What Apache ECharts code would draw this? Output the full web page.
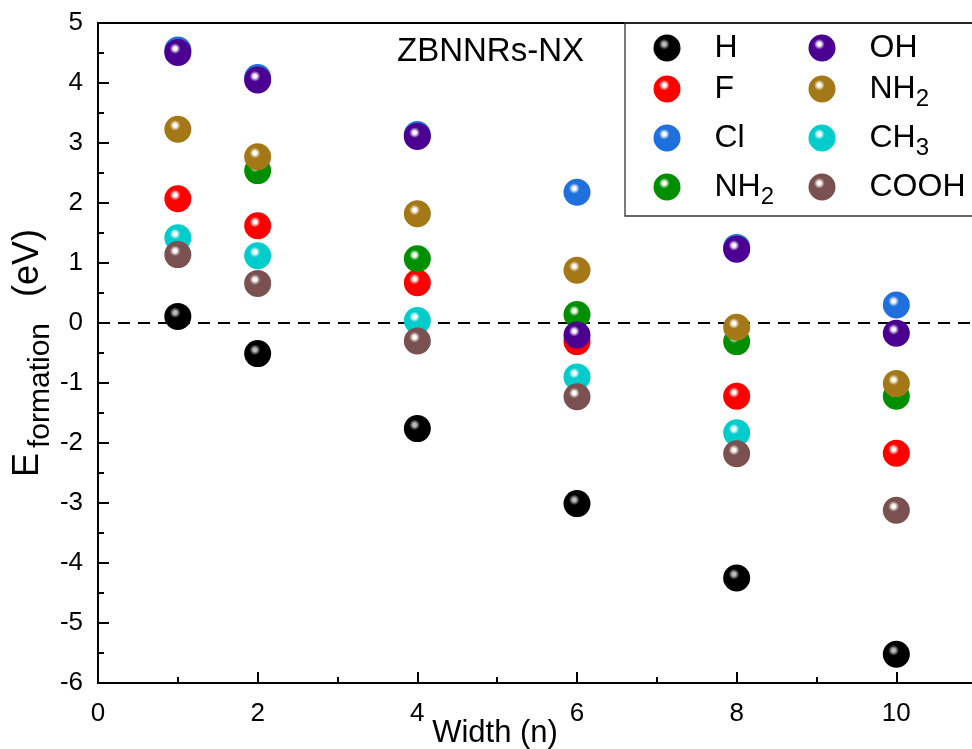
<!DOCTYPE html>
<html>
<head>
<meta charset="utf-8">
<script src="https://cdn.jsdelivr.net/npm/echarts@6/dist/echarts.min.js"></script>
<style>html,body{margin:0;padding:0;background:#fff}#c{width:972px;height:749px}</style>
</head>
<body>
<div id="c"></div>
<script>
// ---- data ----
const widths = [1, 2, 4, 6, 8, 10];
const seriesKeys = ['H', 'F', 'Cl', 'NH2a', 'OH', 'NH2b', 'CH3', 'COOH'];
const valH    = [0.11, -0.51, -1.76, -3.01, -4.25, -5.52];
const valF    = [2.07, 1.62, 0.67, -0.31, -1.22, -2.17];
const valCl   = [4.55, 4.09, 3.14, 2.18, 1.26, 0.30];
const valNH2a = [null, 2.54, 1.07, 0.14, -0.31, -1.22];
const valOH   = [4.51, 4.05, 3.11, -0.20, 1.23, -0.17];
const valNH2b = [3.23, 2.77, 1.82, 0.88, -0.07, -1.01];
const valCH3  = [1.42, 1.12, 0.04, -0.90, -1.83, null];
const valCOOH = [1.14, 0.66, -0.30, -1.23, -2.18, -3.12];
const zeroLine = [[0, 0], [12, 0]];
const xTicks = [0, 2, 4, 6, 8, 10];
const yTicks = [-6, -5, -4, -3, -2, -1, 0, 1, 2, 3, 4, 5];

const values = [valH, valF, valCl, valNH2a, valOH, valNH2b, valCH3, valCOOH];
const colors = ['#000000', '#ff0000', '#1f6fdc', '#008f00', '#4b0092', '#a47816', '#00cccc', '#7a5050'];
// legend label text (main, subscript)
const labelMain = ['H', 'F', 'Cl', 'NH', 'OH', 'NH', 'CH', 'COOH'];
const labelSub  = ['', '', '', '2', '', '2', '3', ''];
// legend placement (marker centres)
const legCol = [667, 667, 667, 667, 822, 822, 822, 822];
const legRow = [47, 88, 137, 186, 47, 88, 137, 186];

function ball(c) {
  const hl = c === '#000000' ? '#bbbbbb' : '#ffffff';
  return new echarts.graphic.RadialGradient(0.4, 0.36, 0.62, [
    { offset: 0, color: hl },
    { offset: 0.1, color: hl },
    { offset: 0.32, color: c },
    { offset: 1, color: c }
  ]);
}

const chart = echarts.init(document.getElementById('c'), null, { renderer: 'canvas' });

const series = [{
  type: 'line', data: zeroLine, z: 1, silent: true, showSymbol: false, symbol: 'none',
  lineStyle: { type: [12, 8], width: 2, color: '#000' }
}];
seriesKeys.forEach((k, i) => {
  series.push({
    name: k, type: 'scatter', z: 2 + i,
    symbol: 'circle', symbolSize: 27,
    itemStyle: { color: ball(colors[i]), opacity: 1 },
    data: widths.map((w, j) => values[i][j] == null ? null : [w, values[i][j]]).filter(d => d)
  });
});

const legends = seriesKeys.map((k, i) => ({
  data: [k], orient: 'horizontal', left: legCol[i] - 13.5, top: legRow[i] - 14.5,
  padding: 0, itemWidth: 27, itemHeight: 27, icon: 'circle', selectedMode: false,
  formatter: () => labelSub[i]
    ? '{m|' + labelMain[i] + '}{s|' + labelSub[i] + '}'
    : '{m|' + labelMain[i] + '}',
  textStyle: {
    color: '#000', fontFamily: 'Liberation Sans',
    rich: {
      m: { fontSize: 32, fontFamily: 'Liberation Sans', color: '#000', verticalAlign: 'top', padding: [7, 0, 6, 29] },
      s: { fontSize: 24, fontFamily: 'Liberation Sans', color: '#000', verticalAlign: 'top', padding: [21, 0, 0, 0] }
    }
  }
}));

const option = {
  animation: false,
  backgroundColor: '#fff',
  textStyle: { fontFamily: 'Liberation Sans', color: '#000' },
  title: {
    text: 'ZBNNRs-NX', left: 397, top: 35, padding: 0,
    textStyle: { fontSize: 33, fontWeight: 'normal', color: '#000', fontFamily: 'Liberation Sans' }
  },
  legend: legends,
  grid: {
    left: 98, top: 23, width: 958, height: 660, outerBoundsMode: 'none', containLabel: false,
    show: true, borderColor: '#000', borderWidth: 2, backgroundColor: 'transparent'
  },
  xAxis: {
    type: 'value', min: 0, max: 12, interval: 2,
    name: 'Width (n)', nameLocation: 'middle', nameGap: 35, nameMoveOverlap: false,
    nameTextStyle: { fontSize: 31, color: '#000', padding: [0, 164, 0, 0] },
    axisLine: { onZero: false, lineStyle: { color: '#000', width: 2 } },
    axisTick: { inside: true, length: 11, lineStyle: { color: '#000', width: 2 } },
    minorTick: { show: true, splitNumber: 2, length: 6, lineStyle: { color: '#000', width: 2 } },
    splitLine: { show: false },
    axisLabel: {
      fontSize: 26, color: '#000', margin: 18,
      formatter: v => xTicks.indexOf(v) >= 0 ? String(v) : ''
    }
  },
  yAxis: {
    type: 'value', min: -6, max: 5, interval: 1,
    name: '{e|E}{f|formation}{e|(eV)}', nameLocation: 'middle', nameGap: 42, nameMoveOverlap: false,
    nameTextStyle: {
      rich: {
        e: { fontSize: 36, color: '#000', verticalAlign: 'top', fontFamily: 'Liberation Sans' },
        f: { fontSize: 30, color: '#000', verticalAlign: 'top', padding: [16, 26, 0, 5], fontFamily: 'Liberation Sans' }
      }
    },
    axisLine: { onZero: false, lineStyle: { color: '#000', width: 2 } },
    axisTick: { inside: true, length: 11, lineStyle: { color: '#000', width: 2 } },
    minorTick: { show: true, splitNumber: 2, length: 6, lineStyle: { color: '#000', width: 2 } },
    splitLine: { show: false },
    axisLabel: {
      fontSize: 26, color: '#000', margin: 15,
      formatter: v => yTicks.indexOf(v) >= 0 ? String(v) : ''
    }
  },
  graphic: [{
    type: 'rect', z: 100, silent: true,
    shape: { x: 625, y: 23, width: 360, height: 193 },
    style: { fill: 'none', stroke: '#333', lineWidth: 1.3 }
  }],
  series: series
};
chart.setOption(option);
</script>
</body>
</html>
